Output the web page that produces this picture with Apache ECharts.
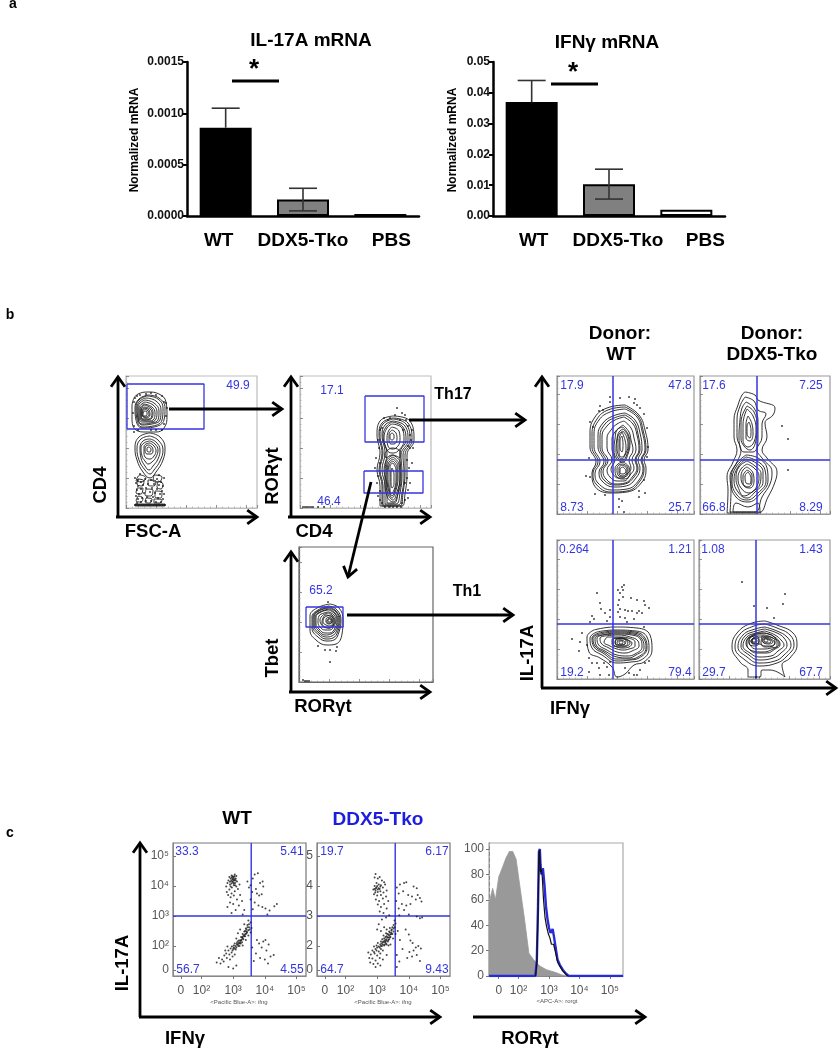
<!DOCTYPE html>
<html>
<head>
<meta charset="utf-8">
<style>
html,body{margin:0;padding:0;background:#fff}
#chart{width:838px;height:1050px}
</style>
</head>
<body>
<div id="chart"></div>
<script src="https://cdn.jsdelivr.net/npm/echarts@6/dist/echarts.min.js"></script>
<script>
// panel a
var barCategories = ['WT', 'DDX5-Tko', 'PBS'];
var il17Values = [0.00086, 0.00016, 0.00002];
var il17Errors = [[0.00086, 0.00105], [0.00005, 0.00027], [0.00002, 0.00002]];
var ifngValues = [0.037, 0.0103, 0.002];
var ifngErrors = [[0.037, 0.044], [0.0055, 0.0152], [0.002, 0.002]];
var il17Ticks = [0, 0.0005, 0.001, 0.0015];
var ifngTicks = [0, 0.01, 0.02, 0.03, 0.04, 0.05];

// panel b, contour loops and dots, x,y flat
var contoursA = [
  [22,113,33,110,39,100,38,88,28,81,16,80,10,88,9,100,13,109],
  [21,112,32,109,37,100,36,88,27,82,16,81,11,89,10,100,13,108],
  [20,110,30,107,35,98,34,88,26,84,16,83,12,90,11,100,14,107],
  [19,108,28,105,33,97,32,88,25,85,16,84,12,91,12,100,14,105],
  [19,106,27,103,31,96,30,89,24,86,16,86,13,92,13,100],
  [18,104,26,101,29,95,28,89,22,87,15,88,14,93,14,99],
  [18,103,25,100,27,95,26,90,20,88,15,90,15,98],
  [18,101,24,99,26,94,23,89,17,89,15,94,15,98],
  [18,100,23,98,24,93,20,90,16,93,16,97],
  [18,99,22,97,23,93,19,91,16,94],
  [18,97,21,96,21,93,18,92,17,94],
  [8,110,12,114,22,116,33,114,40,106,41,92,38,80,30,76,20,76,10,78,6,90,6,102],
  [24,75,34,71,39,60,37,48,30,36,24,30,17,36,11,48,9,60,13,71],
  [24,72,32,68,37,58,34,47,28,38,24,34,19,38,13,48,11,60,15,69],
  [24,69,30,66,34,58,32,49,27,42,23,38,19,42,15,50,14,60,17,67],
  [24,67,29,64,32,58,30,51,26,46,22,44,19,47,16,52,15,60,18,65],
  [24,65,28,62,30,57,28,52,24,49,20,50,18,55,18,61,20,64],
  [23,63,26,61,27,57,25,54,21,54,19,58,20,62],
  [23,61,25,59,24,56,21,57,21,60],
  [12,29,18,27,16,22,11,24],[22,28,30,27,28,22,22,23],[32,27,37,24,35,19,31,21],
  [11,20,17,20,15,14,10,15],[20,19,27,18,25,12,19,13],[29,17,36,16,35,10,29,11],
  [12,12,17,10,15,6,10,7],[20,10,26,9,24,5,19,6],[28,9,36,8,34,5,28,5],
  [10,27,14,33,20,30,15,26],[28,33,36,31,33,26,27,27],[9,2,39,2,39,4,9,4]
];
var dotsA = [12,28,15,26,19,29,25,28,31,29,35,26,37,22,33,23,28,24,22,24,17,23,12,22,10,25,11,18,15,19,20,20,26,20,31,19,36,17,38,14,34,14,29,15,24,16,18,15,13,14,10,12,12,9,16,10,21,11,27,11,32,10,37,9,35,6,30,6,25,7,20,7,15,6,11,5,9,3,13,3,17,3,21,3,25,3,29,3,33,3,37,3,11,3,15,3,19,3,23,3,27,3,31,3,35,3,39,3,10,3,12,3,14,3,16,3,18,3,20,3,22,3,24,3,26,3,28,3,30,3,32,3,34,3,36,3,38,3,8,82,7,95,8,106,11,112,20,114,30,113,36,112,38,106,41,100,40,92,38,84,36,78,30,78,25,78,12,78,8,76,9,110,14,113,25,115,40,105,33,33,14,34,38,30,9,30];
var contoursB = [
  [93,92,110,87,114,68,107,53,107,35,105,14,102,2,80,2,80,22,77,38,80,55,77,73,80,87],
  [93,90,108,85,112,68,105,53,105,35,103,15,100,2,82,2,82,22,79,38,82,55,79,73,82,85],
  [93,89,106,84,110,68,103,53,104,35,102,15,98,3,83,3,83,22,80,38,83,55,80,73,83,84],
  [93,87,105,82,108,68,101,53,102,35,100,15,96,4,85,4,85,22,82,38,85,55,82,73,85,83],
  [92,86,103,81,106,68,100,55,100,35,98,15,94,5,87,5,87,22,84,38,87,54,83,72,86,81],
  [92,84,102,80,104,68,98,57,92,55,87,58,84,70,87,80],
  [92,81,99,77,100,68,96,60,92,59,88,62,87,70,89,78],
  [92,78,96,75,97,69,94,64,91,64,89,68,89,74],
  [92,75,94,73,94,70,92,68,90,70,90,73],
  [93,53,100,46,101,30,98,14,93,6,87,12,85,28,86,46],
  [93,51,99,44,100,30,97,16,93,8,88,14,86,28,87,45],
  [93,49,98,42,98,30,96,18,92,10,89,16,87,30,88,44],
  [93,47,97,40,97,29,95,18,92,12,89,20,88,32,89,43],
  [93,45,96,38,96,28,94,18,91,14,90,22,90,34,90,42],
  [92,40,94,34,94,24,92,20,91,28,91,36],
  [85,55,92,60,100,56,100,50,92,53,86,50]
];
var dotsB = [97,100,102,95,105,93,95,93,90,90,108,82,110,73,111,68,108,62,107,48,82,80,78,68,80,45,78,32,80,17,105,25,108,18,105,8,82,5,102,5,88,88,100,88,110,88,103,78,79,60,80,78,110,60,109,40,107,30,77,25,80,8,85,1,89,1,93,1,97,1,101,1,3,1,5,1,7,1,9,1,11,1,13,1,18,1,24,1,106,88,84,90,112,78,113,60,76,50,75,40,110,25,108,10,78,12,112,45];
var contoursC = [
  [31,78,40,74,44,62,43,48,37,38,28,37,17,42,11,52,11,66,18,74],
  [30,76,38,72,42,62,40,50,35,42,28,41,19,45,13,54,13,65,19,72],
  [30,75,37,71,41,62,39,51,34,44,27,43,20,47,14,55,14,65,19,71],
  [30,74,37,70,40,62,38,52,33,46,27,45,20,49,15,56,15,65,20,71],
  [30,73,36,69,39,62,37,53,32,48,26,47,20,51,16,57,16,65,21,70],
  [30,72,36,68,38,62,36,54,31,49,26,49,20,53,17,58,17,65,22,70],
  [30,70,35,67,37,62,35,56,31,52,26,52,21,55,19,60,20,66,25,69],
  [30,69,34,66,36,61,34,57,30,54,25,55,22,58,21,62,23,66,26,68],
  [31,67,34,64,34,60,31,56,27,57,24,60,25,64,28,66],
  [31,66,35,63,35,59,31,54,26,55,23,59,24,64,27,67],
  [31,65,33,63,33,60,30,58,27,60,27,63],
  [31,64,33,62,32,59,29,59,28,61],
  [31,63,32,62,31,60,29,61,29,63]
];
var dotsC = [19,36,31,20,37,31,31,32,29,80,38,35,26,32,4,2,6,1,8,1,10,1];
var contoursD = [
  [68,109,82,99,88,84,91,64,87,54,89,46,85,32,70,22,53,21,37,29,35,41,39,52,33,67,33,81,38,97,50,106],
  [68,107,81,98,86,84,89,64,85,54,87,46,83,33,70,23,54,22,39,30,36,41,41,52,35,67,35,80,40,95,51,104],
  [68,105,80,97,85,83,88,64,84,54,86,46,82,34,70,25,55,24,41,31,38,41,43,52,37,67,37,80,42,94,53,102],
  [68,101,78,94,83,81,85,64,81,54,83,46,79,36,69,28,57,27,45,33,42,42,47,52,41,67,41,79,46,91,56,98],
  [68,99,77,92,81,80,83,64,79,54,81,46,77,37,68,30,58,29,47,34,44,43,49,52,43,67,43,78,48,90,57,96],
  [67,97,76,90,80,79,82,64,78,54,80,46,76,38,68,31,58,30,49,35,46,43,51,53,45,66,45,78,50,88,58,94],
  [67,93,74,86,77,76,79,64,75,54,77,46,73,39,67,33,60,33,53,37,50,44,55,54,50,66,50,76,54,84,60,90],
  [66,89,72,82,74,74,76,64,72,54,74,46,70,40,66,36,61,36,56,40,54,45,58,54,55,65,55,75,58,82,62,86],
  [66,87,71,80,73,72,71,60,66,52,60,55,57,64,58,75,60,84],
  [66,85,71,78,72,70,70,60,66,54,61,56,59,64,60,75,62,82],
  [66,83,70,76,71,68,68,59,65,55,61,60,60,68,61,78],
  [66,52,72,47,73,40,67,35,60,37,58,45,61,50],
  [66,50,71,46,71,40,66,37,61,39,60,45,62,49],
  [65,49,70,45,69,40,65,38,62,41,62,46],
  [65,82,68,74,69,66,67,58,64,57,62,64,62,74],
  [66,47,69,43,66,40,63,41,63,45],
  [65,78,66,70,65,62,63,66,63,74]
];
var dotsD = [43,108,46,104,53,117,53,112,63,116,72,117,78,115,77,111,87,100,83,106,90,86,91,67,33,92,36,87,32,56,33,37,29,38,38,20,48,19,82,23,88,21,82,17,62,15,65,13,67,2,62,7,87,34,90,57,80,109,42,103];
var contoursE = [
  [45,122,55,119,58,114,75,106,73,99,65,91,67,77,62,64,67,56,77,42,75,32,68,17,58,1,27,1,28,24,27,37,33,52,37,64,34,77,34,94,38,109,42,119],
  [45,117,54,113,58,104,66,100,62,90,62,77,57,64,62,56,72,42,70,30,62,17,55,2,30,2,31,24,30,37,37,52,41,64,37,77,37,94,40,108],
  [46,112,54,106,58,92,58,75,53,62,44,62,39,76,40,94,42,106],
  [47,108,54,102,57,88,56,74,50,64,44,68,41,76,41,92],
  [47,105,53,98,56,85,54,72,48,67,43,74,43,90],
  [48,98,52,90,53,80,50,73,46,76,46,90],
  [49,92,51,84,50,76,47,80,47,88],
  [46,59,58,56,67,46,68,34,60,20,48,12,36,17,31,32,34,47],
  [46,57,57,53,65,44,66,33,58,21,47,14,37,19,32,33,36,47],
  [46,55,56,51,63,42,63,32,55,22,47,16,38,22,34,34,38,47],
  [47,53,55,48,61,40,60,30,52,22,44,18,38,27,36,36,39,47],
  [47,50,54,46,59,38,57,28,49,21,41,26,38,36,41,45],
  [47,47,53,41,54,33,50,26,44,28,41,37,43,44],
  [47,44,52,39,52,32,48,27,43,31,43,38,45,42],
  [48,42,51,36,50,30,46,31,45,38],
  [33,2,36,11,48,7,58,11,60,2]
];
var dotsE = [82,88,88,75,88,44];
var contoursF = [
  [37,49,57,52,80,51,93,44,95,29,87,17,77,14,68,5,60,2,55,12,43,21,32,27,30,42],
  [40,47,57,49,79,48,90,42,92,30,84,19,74,17,60,16,45,24,35,31,33,41],
  [42,46,58,48,78,47,88,41,90,31,82,21,73,19,60,18,46,26,37,32,35,41],
  [43,45,58,47,77,46,87,40,89,31,81,22,72,20,60,20,47,27,38,33,36,41],
  [45,44,59,46,76,45,85,40,87,31,79,24,71,21,60,22,48,28,39,34,38,41],
  [46,44,60,45,75,44,84,39,85,32,78,25,70,23,60,24,50,29,41,35,40,41],
  [48,43,61,44,73,42,81,38,82,33,75,28,68,26,60,27,52,31,44,36,43,41],
  [50,42,62,42,71,41,78,37,78,33,72,30,66,29,60,30,53,33,47,37],
  [55,40,63,41,70,39,75,36,72,32,65,31,60,32,55,35],
  [57,41,64,41,70,40,73,36,70,33,64,32,58,33,56,37],
  [60,40,66,40,71,37,68,33,62,33,58,36],
  [59,40,65,41,69,38,66,34,61,34,58,37],
  [61,39,67,38,68,35,63,34,60,36],
  [62,38,65,38,66,36,63,35]
];
var dotsF = [40,86,43,76,44,70,53,69,61,89,65,92,67,94,66,89,63,86,66,82,62,79,74,81,80,79,87,78,92,71,88,74,61,74,63,70,68,69,71,68,75,68,82,68,80,66,85,66,68,61,63,62,61,67,53,62,48,66,50,58,35,63,37,60,33,57,77,60,70,57,15,40,23,37,22,28,25,46,30,34,32,21,35,16,40,16,42,11,47,16,50,12,53,17,43,4,52,4,32,7,72,6,77,4,83,9,88,16,92,18,87,52,80,4,68,11];
var contoursG = [
  [66,58,78,54,94,46,98,34,91,21,83,14,86,2,71,9,63,9,61,2,49,2,49,9,41,17,33,32,38,46,53,56],
  [66,55,78,51,91,44,95,34,88,23,78,16,60,13,46,19,36,32,41,45,55,53],
  [66,52,78,48,88,42,92,34,85,24,76,18,60,16,48,22,39,32,44,44,56,50],
  [66,50,78,46,85,41,88,34,82,26,74,21,60,19,50,24,42,33,46,43,57,48],
  [66,48,76,44,82,39,85,34,79,28,72,23,60,22,51,26,44,33,48,42,57,46],
  [66,46,74,43,80,38,81,34,76,30,68,26,58,26,50,30,47,36,51,42,58,45],
  [66,44,74,41,78,37,78,33,72,31,65,30,57,30,51,34,50,38,54,43,60,44],
  [52,43,60,46,70,45,77,40,80,35,74,30,64,27,54,28,48,34,48,39],
  [56,42,60,42,66,42,72,40,76,36,72,33,66,33,60,35,54,35,52,38],
  [50,41,56,43,60,40,60,36,55,33,50,36],
  [63,43,71,42,76,38,74,33,66,32,62,36],
  [54,41,58,41,60,38,57,35,53,37],
  [65,42,70,40,74,37,70,35,65,36,63,39],
  [52,39,56,41,58,38,56,36,52,37],
  [64,40,68,40,72,37,68,36,64,37],
  [53,40,56,40,57,38,54,37],
  [66,41,69,39,68,37,65,38]
];
var dotsG = [43,97,55,73,68,71,75,61,84,75,86,85,57,2];

// gates and crosshairs in the same plot units
var gateA = [1,124,78,124,78,79,1,79];
var gateB1 = [65,112,124,112,124,66,65,66];
var gateB2 = [64,37,123,37,123,15,64,15];
var gateC = [7,75,44,75,44,55,7,55];

// panel c, log10 channel values
var scatterWT = [3.02,4.30,2.95,4.35,3.05,4.38,3.08,4.25,2.98,4.22,3.03,4.18,2.92,4.25,2.88,4.30,3.10,4.33,3.00,4.12,2.95,4.08,3.06,4.10,3.12,4.15,2.90,4.05,2.85,4.18,2.82,4.10,3.02,4.02,2.96,3.95,3.10,3.98,2.88,3.88,2.80,3.80,2.95,3.75,3.05,3.82,3.15,3.90,3.20,4.05,2.78,3.98,2.84,3.70,2.92,3.62,3.02,3.68,3.12,3.55,3.22,3.70,2.90,3.45,3.00,3.40,3.18,3.35,3.28,3.50,2.82,3.30,3.35,3.20,3.08,3.20,3.30,3.05,2.95,3.10,
  2.98,4.32,3.00,4.26,3.05,4.22,2.94,4.18,3.00,4.20,3.04,4.32,2.96,4.28,3.08,4.18,2.90,4.14,2.97,4.14,3.02,4.08,2.92,3.98,3.06,4.02,
  3.55,4.02,3.68,4.38,3.62,4.25,3.78,4.42,3.45,4.15,3.50,3.95,3.72,3.90,3.85,4.10,3.93,4.15,3.95,3.98,3.60,3.80,3.75,3.75,3.82,3.68,3.90,3.72,3.55,3.55,3.68,3.45,3.80,3.35,3.92,3.30,4.02,3.25,4.15,3.18,4.30,3.32,4.38,3.40,3.62,3.22,4.08,3.05,
  3.50,2.72,3.55,2.78,3.45,2.62,3.52,2.55,3.40,2.58,3.35,2.48,3.42,2.42,3.30,2.40,3.38,2.32,3.25,2.30,3.32,2.22,3.22,2.18,3.28,2.12,3.18,2.10,3.12,2.05,3.20,2.00,3.10,1.95,3.05,2.08,3.02,1.95,3.08,1.88,2.98,1.85,2.92,1.92,2.95,1.78,2.88,1.72,2.85,1.85,2.82,1.98,2.78,1.75,2.72,1.68,2.80,1.60,2.90,1.55,2.65,1.55,2.70,1.48,2.60,1.42,2.98,1.65,3.05,1.72,3.48,2.35,3.40,2.20,3.30,2.02,3.58,2.60,3.48,2.85,3.35,2.72,3.22,2.55,3.15,2.42,3.10,2.25,3.42,2.48,3.36,2.38,3.30,2.30,3.26,2.20,3.24,2.08,3.16,2.00,3.14,2.15,3.02,2.02,2.96,1.98,2.75,1.85,2.55,1.60,2.48,1.45,3.10,1.35,2.85,1.30,3.00,1.25,3.55,2.45,
  3.45,2.70,3.42,2.55,3.38,2.50,3.40,2.40,3.33,2.35,3.30,2.25,3.35,2.32,3.28,2.28,3.22,2.12,3.25,2.18,3.18,2.18,3.20,2.08,3.12,2.10,3.15,2.05,3.08,2.00,3.05,1.92,3.00,1.90,3.48,2.52,3.50,2.62,3.44,2.46,
  3.75,2.20,3.82,2.08,3.95,2.15,4.02,2.20,4.12,2.05,3.90,1.95,4.05,1.85,3.72,1.75,3.85,1.60,4.00,1.55,4.18,1.65,4.28,1.70,4.10,1.42,3.60,1.95,3.65,1.50];
var scatterTko = [2.95,4.40,3.02,4.25,2.92,4.28,3.08,4.30,3.15,4.18,3.22,4.12,2.98,4.10,3.05,4.05,3.12,4.02,2.92,4.00,2.98,3.95,3.05,3.92,3.10,3.98,2.88,3.88,2.95,3.85,3.02,3.80,3.18,3.95,3.25,4.05,3.10,3.82,2.90,3.72,3.00,3.68,3.12,3.70,3.20,3.78,3.30,3.85,2.96,3.55,3.06,3.50,3.18,3.58,3.28,3.65,3.02,3.38,3.12,3.30,3.22,3.40,3.35,3.50,3.08,3.15,3.20,3.10,3.30,3.25,3.38,3.02,3.28,2.95,3.15,2.88,
  3.00,4.00,2.96,3.92,3.02,3.88,2.92,3.90,3.08,3.90,2.94,3.78,
  3.62,3.95,3.72,4.05,3.85,4.10,3.92,4.12,4.15,3.98,4.25,3.92,4.28,3.70,4.35,3.60,4.40,3.48,3.68,3.75,3.82,3.82,3.98,3.70,4.10,3.65,4.22,3.55,3.60,3.50,3.78,3.40,3.92,3.35,4.05,3.40,3.68,3.25,3.85,3.20,4.25,2.98,4.35,2.92,4.42,2.95,3.70,3.02,4.00,3.05,
  3.55,2.85,3.58,2.75,3.52,2.70,3.48,2.62,3.55,2.62,3.45,2.52,3.52,2.48,3.40,2.45,3.48,2.40,3.35,2.38,3.42,2.30,3.30,2.32,3.38,2.22,3.28,2.22,3.34,2.15,3.22,2.25,3.25,2.12,3.30,2.05,3.18,2.12,3.22,2.02,3.12,2.15,3.15,2.00,3.10,2.05,3.05,1.98,3.12,1.90,3.18,1.85,3.02,2.10,2.98,2.02,2.95,1.90,3.05,1.82,3.10,1.75,2.90,1.98,2.85,1.85,2.92,1.75,3.00,1.68,3.08,1.60,2.80,1.72,2.75,1.60,2.85,1.58,2.95,1.52,3.02,1.42,2.72,1.78,2.88,1.40,2.78,1.45,2.95,1.30,3.10,1.35,3.18,1.55,3.30,1.70,3.42,2.05,3.50,2.25,3.44,2.40,3.38,2.48,3.32,2.40,3.26,2.30,3.20,2.35,3.35,2.28,3.28,2.42,3.24,2.05,3.36,2.02,3.16,2.22,3.40,2.60,3.58,2.40,3.30,2.55,3.22,2.62,3.12,2.50,3.05,2.72,3.00,2.55,
  3.45,2.45,3.42,2.38,3.38,2.35,3.40,2.28,3.35,2.20,3.32,2.28,3.30,2.18,3.26,2.15,3.24,2.18,3.28,2.08,3.20,2.15,3.18,2.05,3.14,2.08,3.12,2.00,3.08,1.95,3.00,1.95,2.98,1.85,2.90,1.80,3.52,2.58,3.46,2.55,
  3.65,2.50,3.72,2.20,3.80,1.90,3.62,1.70,3.90,2.55,4.00,2.38,4.05,2.18,4.12,2.10,4.22,1.95,4.30,2.00,4.38,1.92,4.15,1.85,4.02,1.80,4.10,1.65,4.25,1.70,3.95,1.60,3.70,1.48,3.62,1.30,4.35,1.50];
var logTickValues = [1.35, 2, 3, 4, 5];
var logTickLabels = ['0', '10²', '10³', '10⁴', '10⁵'];
var scatterYValues = [1.2, 2, 3, 4, 5];
var scatterYFragments = ['0', '2', '3', '4', '5'];
var histTicks = [0, 20, 40, 60, 80, 100];
var histControl = [1.03,0,1.03,57,1.15,69,1.24,60,1.35,78,1.48,86,1.59,93,1.70,98,1.81,98,1.92,92,2.03,73,2.2,44,2.34,18,2.49,13,2.69,8,2.91,5,3.19,3,3.41,1,3.57,0];
var histWT = [2.56,0,2.6,10,2.64,50,2.67,97,2.69,99,2.72,82,2.75,84,2.78,78,2.82,60,2.87,46,2.92,39,2.98,33,3.03,30,3.08,25,3.15,25,3.22,18,3.28,11,3.35,8,3.45,4,3.55,1.5,3.62,0];
var histTko = [1.03,0,2.55,0,2.60,12,2.64,55,2.67,98,2.70,100,2.72,88,2.75,80,2.80,85,2.85,72,2.90,55,2.95,45,3.00,38,3.05,34,3.12,37,3.17,30,3.22,22,3.28,13,3.35,9,3.45,5,3.55,2,3.65,0,5.43,0];

var FONT = '"Liberation Sans", Arial, sans-serif';
var BLUE = '#3535e0';
var DARK = '#1c1c1c';

function pairs(flat) {
    var out = [];
    for (var i = 0; i < flat.length; i += 2) out.push([flat[i], flat[i + 1]]);
    return out;
}
function loop(flat) {
    var p = pairs(flat);
    p.push(p[0]);
    return p;
}

var grids = [], xAxes = [], yAxes = [], series = [], graphic = [];

function txt(s, x, y, size, opt) {
    opt = opt || {};
    graphic.push({
        type: 'text', x: x, y: y, rotation: opt.rot || 0, silent: true, z: 20,
        style: {
            text: s, fill: opt.color || '#000', align: 'center', verticalAlign: 'middle',
            fontFamily: FONT, fontSize: size, fontWeight: opt.weight || 'normal'
        }
    });
}
function bold(s, x, y, size, rot) { txt(s, x, y, size, {weight: 'bold', rot: rot}); }
function arrow(x1, y1, x2, y2, w, head) {
    w = w || 2.8; head = head || 12;
    var a = Math.atan2(y2 - y1, x2 - x1), s = 0.62;
    graphic.push({type: 'polyline', silent: true, z: 15, shape: {points: [[x1, y1], [x2, y2]]}, style: {stroke: '#000', lineWidth: w, fill: null}});
    graphic.push({type: 'polyline', silent: true, z: 15, shape: {points: [
        [x2 - head * Math.cos(a - s), y2 - head * Math.sin(a - s)], [x2, y2],
        [x2 - head * Math.cos(a + s), y2 - head * Math.sin(a + s)]
    ]}, style: {stroke: '#000', lineWidth: w, fill: null, lineJoin: 'miter'}});
}

// bar plots
function barPlot(left, width, values, errors, ticks, pads, fmt) {
    var i = grids.length;
    grids.push({left: left, top: 62, width: width, height: 154, containLabel: false});
    var rich = {};
    pads.forEach(function (p, k) {
        rich['c' + k] = {fontFamily: FONT, fontSize: 19, fontWeight: 'bold', color: '#000', padding: p};
    });
    xAxes.push({
        gridIndex: i, type: 'category', data: barCategories,
        axisLine: {lineStyle: {color: '#000', width: 2.5}},
        axisTick: {alignWithLabel: true, length: 5, lineStyle: {color: '#000', width: 2}},
        axisLabel: {margin: 15, interval: 0, formatter: function (v) {
            return '{c' + barCategories.indexOf(v) + '|' + v + '}';
        }, rich: rich}
    });
    yAxes.push({
        gridIndex: i, type: 'value', min: ticks[0], max: ticks[ticks.length - 1], interval: ticks[1] - ticks[0],
        splitLine: {show: false},
        axisLine: {show: true, lineStyle: {color: '#000', width: 2.5}},
        axisTick: {show: true, length: 4, lineStyle: {color: '#000', width: 2}},
        axisLabel: {fontFamily: FONT, fontSize: 12, fontWeight: 'bold', color: '#111', margin: 3, formatter: function (v) { return v.toFixed(fmt); }}
    });
    var colors = ['#000', '#808080', '#fff'];
    series.push({
        type: 'bar', xAxisIndex: i, yAxisIndex: i, barWidth: 52, silent: true, animation: false,
        data: values.map(function (v, k) {
            return {value: v, itemStyle: {color: colors[k], borderColor: '#000', borderWidth: 2}};
        })
    });
    series.push({
        type: 'custom', xAxisIndex: i, yAxisIndex: i, silent: true, z: 5,
        encode: {x: 0, y: [1, 2]},
        data: errors.map(function (e, k) { return [k, e[0], e[1]]; }),
        renderItem: function (params, api) {
            var lo = api.coord([api.value(0), api.value(1)]);
            var hi = api.coord([api.value(0), api.value(2)]);
            if (lo[1] === hi[1]) return {type: 'group', children: []};
            var st = {stroke: '#333', lineWidth: 1.6, fill: null};
            var kids = [
                {type: 'line', shape: {x1: hi[0], y1: lo[1], x2: hi[0], y2: hi[1]}, style: st},
                {type: 'line', shape: {x1: hi[0] - 14, y1: hi[1], x2: hi[0] + 14, y2: hi[1]}, style: st}
            ];
            if (api.value(0) === 1) kids.push({type: 'line', shape: {x1: hi[0] - 14, y1: lo[1], x2: hi[0] + 14, y2: lo[1]}, style: st});
            return {type: 'group', children: kids};
        }
    });
}
barPlot(187, 232, il17Values, il17Errors, il17Ticks, [[0, 14, 0, 0], [0, 0, 0, 0], [0, 0, 0, 22]], 4);
barPlot(493, 232, ifngValues, ifngErrors, ifngTicks, [[0, 0, 0, 4], [0, 0, 0, 18], [0, 0, 0, 38]], 2);

// flow plots
function plainLine(i, data, color, width, smooth) {
    series.push({
        type: 'line', xAxisIndex: i, yAxisIndex: i, data: data, showSymbol: false, silent: true,
        smooth: smooth || false, animation: false, clip: true, z: 3,
        lineStyle: {color: color, width: width}
    });
}
function flowPlot(left, top, w, h, border, contours, dots, gates, cross) {
    var i = grids.length;
    grids.push({left: left, top: top, width: w, height: h, show: true, borderColor: border, borderWidth: 1.2, backgroundColor: 'transparent'});
    [xAxes, yAxes].forEach(function (list, k) {
        list.push({
            gridIndex: i, type: 'value', min: 0, max: k ? h : w, interval: 30,
            splitLine: {show: false}, axisLabel: {show: false},
            axisLine: {show: true, lineStyle: {color: border, width: 1.2}},
            axisTick: {show: true, inside: true, length: 3, lineStyle: {color: '#777', width: 0.8}},
            minorTick: {show: true, splitNumber: 5, length: 1.5, lineStyle: {color: '#999', width: 0.6}}
        });
    });
    contours.forEach(function (c) { plainLine(i, loop(c), DARK, 0.9, 0.45); });
    series.push({
        type: 'scatter', xAxisIndex: i, yAxisIndex: i, data: pairs(dots), symbolSize: 2, silent: true,
        animation: false, itemStyle: {color: '#111'}, z: 3
    });
    gates.forEach(function (g) { plainLine(i, loop(g), BLUE, 1.3); });
    if (cross) {
        plainLine(i, [[cross[0], 0], [cross[0], h]], BLUE, 1.5);
        plainLine(i, [[0, cross[1]], [w, cross[1]]], BLUE, 1.5);
    }
}
flowPlot(126, 376, 131, 132, '#bdbdbd', contoursA, dotsA, [gateA]);
flowPlot(300, 376, 131, 132, '#bdbdbd', contoursB, dotsB, [gateB1, gateB2]);
flowPlot(299, 547, 134, 135, '#666', contoursC, dotsC, [gateC]);
flowPlot(557, 376, 137, 138, '#999', contoursD, dotsD, [], [56, 54]);
flowPlot(700, 376, 130, 138, '#999', contoursE, dotsE, [], [57, 54]);
flowPlot(557, 540, 137, 139, '#999', contoursF, dotsF, [], [56, 55]);
flowPlot(699, 540, 131, 139, '#999', contoursG, dotsG, [], [57, 55]);

// scatter plots
function logAxis(i) {
    return {
        gridIndex: i, type: 'value', min: 1.1, max: 5.3,
        splitLine: {show: false},
        axisLine: {show: true, lineStyle: {color: '#888'}},
        axisTick: {show: true, length: 3, customValues: logTickValues, lineStyle: {color: '#777'}},
        axisLabel: {customValues: logTickValues, fontFamily: FONT, fontSize: 12, color: '#555', margin: 9, formatter: function (v) {
            return logTickLabels[logTickValues.indexOf(v)];
        }}
    };
}
function scatterPlot(left, dots, yLabels) {
    var i = grids.length;
    grids.push({left: left, top: 843, width: 133, height: 133, show: true, borderColor: '#777', borderWidth: 1.2});
    xAxes.push(logAxis(i));
    yAxes.push({
        gridIndex: i, type: 'value', min: 1, max: 5.43,
        splitLine: {show: false},
        axisLine: {show: true, lineStyle: {color: '#888'}},
        axisTick: {show: true, inside: true, length: 3, customValues: scatterYValues, lineStyle: {color: '#777'}},
        axisLabel: {customValues: scatterYValues, fontFamily: FONT, fontSize: 12, color: '#555', margin: 4, formatter: function (v) {
            return yLabels[scatterYValues.indexOf(v)];
        }}
    });
    series.push({
        type: 'scatter', xAxisIndex: i, yAxisIndex: i, data: pairs(dots), symbolSize: 2, silent: true,
        animation: false, itemStyle: {color: '#1a1a1a'}, z: 3
    });
    plainLine(i, [[3.57, 1], [3.57, 5.43]], BLUE, 1.4);
    plainLine(i, [[1.1, 3], [5.3, 3]], BLUE, 1.4);
}
scatterPlot(173, scatterWT, ['0', '10²', '10³', '10⁴', '10⁵']);
scatterPlot(317, scatterTko, scatterYFragments);

// histogram
(function () {
    var i = grids.length;
    grids.push({left: 489, top: 843, width: 134, height: 133, show: true, borderColor: '#aaa', borderWidth: 1.2});
    var xa = logAxis(i);
    xa.min = 1.03; xa.max = 5.43;
    xAxes.push(xa);
    yAxes.push({
        gridIndex: i, type: 'value', min: 0, max: 104.7,
        splitLine: {show: false},
        axisLine: {show: true, lineStyle: {color: '#888', type: 'dashed'}},
        axisTick: {show: true, length: 3, customValues: histTicks, lineStyle: {color: '#777'}},
        axisLabel: {customValues: histTicks, fontFamily: FONT, fontSize: 12, color: '#555', margin: 5}
    });
    series.push({
        type: 'line', xAxisIndex: i, yAxisIndex: i, data: pairs(histControl), showSymbol: false, silent: true,
        animation: false, z: 2, lineStyle: {color: '#999', width: 0.8}, areaStyle: {color: '#999', opacity: 1}
    });
    plainLine(i, pairs(histTko), '#2a2ad8', 2.4);
    plainLine(i, pairs(histWT), '#111', 1.2);
})();

// text
bold('a', 13, 4, 14);
bold('b', 10, 315, 14);
bold('c', 10, 833, 14);
bold('IL-17A mRNA', 311, 41, 19);
bold('IFNγ mRNA', 607, 43, 19);
bold('Normalized mRNA', 135, 140, 12, Math.PI / 2);
bold('Normalized mRNA', 453, 140, 12, Math.PI / 2);
bold('*', 254, 70, 26);
bold('*', 573, 73, 26);
graphic.push({type: 'line', silent: true, shape: {x1: 232, y1: 81, x2: 279, y2: 81}, style: {stroke: '#000', lineWidth: 3}});
graphic.push({type: 'line', silent: true, shape: {x1: 551, y1: 84, x2: 598, y2: 84}, style: {stroke: '#000', lineWidth: 3}});

bold('CD4', 101, 485, 18.5, Math.PI / 2);
bold('FSC-A', 153, 532, 18.5);
bold('RORγt', 273, 476, 18.5, Math.PI / 2);
bold('CD4', 314, 532, 18.5);
bold('Tbet', 273, 658, 18.5, Math.PI / 2);
bold('RORγt', 323, 707, 18.5);
bold('Th17', 453, 395, 16);
bold('Th1', 467, 592, 16);
bold('Donor:', 620, 334, 19);
bold('WT', 621, 355, 19);
bold('Donor:', 772, 334, 19);
bold('DDX5-Tko', 772, 355, 19);
bold('IL-17A', 528, 653, 18.5, Math.PI / 2);
bold('IFNγ', 570, 709, 18.5);
bold('WT', 237, 819, 19);
txt('DDX5-Tko', 378, 820, 19, {weight: 'bold', color: '#1d1de0'});
bold('IL-17A', 123, 963, 18.5, Math.PI / 2);
bold('IFNγ', 185, 1039, 18.5);
bold('RORγt', 530, 1039, 18.5);

function blue(s, x, y) { txt(s, x, y, 12, {color: BLUE}); }
blue('49.9', 238, 386);
blue('17.1', 332, 391); blue('46.4', 329, 502);
blue('65.2', 321, 591);
blue('17.9', 572, 386); blue('47.8', 680, 386); blue('8.73', 572, 508); blue('25.7', 680, 508);
blue('17.6', 714, 386); blue('7.25', 811, 386); blue('66.8', 714, 508); blue('8.29', 811, 508);
blue('0.264', 574, 550); blue('1.21', 680, 550); blue('19.2', 572, 673); blue('79.4', 680, 673);
blue('1.08', 713, 550); blue('1.43', 811, 550); blue('29.7', 714, 673); blue('67.7', 811, 673);
blue('33.3', 187, 852); blue('5.41', 292, 852); blue('56.7', 188, 970); blue('4.55', 292, 970);
blue('19.7', 332, 852); blue('6.17', 437, 852); blue('64.7', 332, 970); blue('9.43', 437, 970);
txt('<Pacific Blue-A>: ifng', 239, 1002, 6, {color: '#555'});
txt('<Pacific Blue-A>: ifng', 383, 1002, 6, {color: '#555'});
txt('<APC-A>: rorgt', 557, 1001, 6, {color: '#555'});

// axis and gating arrows
arrow(118, 517, 118, 377); arrow(116, 517, 257, 517);
arrow(291, 517, 291, 377); arrow(288, 517, 430, 517);
arrow(291, 692, 291, 552); arrow(289, 692, 430, 692);
arrow(169, 409, 282, 409);
arrow(409, 420, 525, 420);
arrow(371, 482, 348, 577);
arrow(347, 615, 513, 615);
arrow(542, 688, 542, 377); arrow(541, 688, 836, 688);
arrow(140, 1017, 140, 843); arrow(139, 1017, 440, 1017);
arrow(473, 1017, 645, 1017);

var chart = echarts.init(document.getElementById('chart'));
chart.setOption({
    animation: false,
    backgroundColor: '#fff',
    textStyle: {fontFamily: FONT},
    grid: grids,
    xAxis: xAxes,
    yAxis: yAxes,
    series: series,
    graphic: graphic
});
</script>
</body>
</html>
